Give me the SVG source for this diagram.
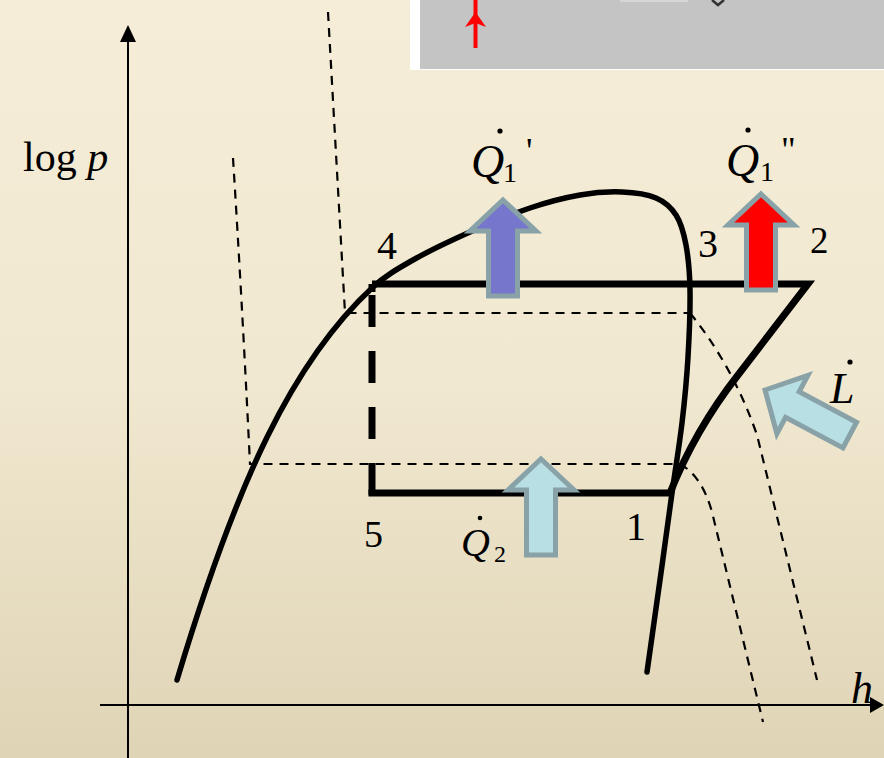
<svg xmlns="http://www.w3.org/2000/svg" width="884" height="758" viewBox="0 0 884 758">
<defs>
<linearGradient id="bg" x1="0" y1="0" x2="0" y2="1">
<stop offset="0" stop-color="#F5EDD7"/>
<stop offset="0.5" stop-color="#F0E8D0"/>
<stop offset="1" stop-color="#E0D4B6"/>
</linearGradient>
<path id="arr" d="M0,0 L33,31 L14.5,31 L14.5,96 L-14.5,96 L-14.5,31 L-33,31 Z"/>
</defs>
<style>
.t{font-family:"Liberation Serif","Times New Roman",serif;fill:#000}
.i{font-style:italic}
.thick{fill:none;stroke:#000;stroke-width:7}
.dome{fill:none;stroke:#000;stroke-width:5.5;stroke-linecap:round}
.thin{fill:none;stroke:#000;stroke-width:2.2;stroke-dasharray:9 7}
.ar{stroke:#88A2A8;stroke-width:5;stroke-linejoin:miter}
.ax{stroke:#000;stroke-width:2;fill:none}
</style>
<rect width="884" height="758" fill="url(#bg)"/>
<g id="inset">
<rect x="410" y="0" width="474" height="70" fill="#FFFFFF"/>
<rect x="420" y="0" width="464" height="69" fill="#C4C4C4"/>
<line x1="620" y1="1" x2="688" y2="1" stroke="#D6D6D6" stroke-width="2"/>
<path d="M712,0 L718,5 L724,0" fill="none" stroke="#333" stroke-width="2.5"/>
<line x1="475.5" y1="0" x2="475.5" y2="48" stroke="#FF0000" stroke-width="4"/>
<path d="M475.5,12 L486,27 L475.5,23 L465,27 Z" fill="#FF0000"/>
</g>
<g id="axes">
<line class="ax" x1="128" y1="40" x2="128" y2="758"/>
<path d="M128,25 L136,42 L120,42 Z" fill="#000"/>
<line class="ax" x1="100" y1="705" x2="872" y2="705"/>
<path d="M884,705 L870,697 L870,713 Z" fill="#000"/>
<text class="t" x="23" y="171" font-size="42">log <tspan class="i">p</tspan></text>
<text class="t i" x="851" y="703" font-size="44">h</text>
</g>
<g id="connectors">
<g id="isolines">
<path class="thin" d="M328,12 L345,313 L690,313"/>
<path class="thin" d="M690,313 Q733,366 757,435 L817,680"/>
<path class="thin" d="M233,158 Q242,300 250,464 L680,464"/>
<path class="thin" d="M680,464 Q702,476 712,512 L763,722"/>
</g>
<path id="dome" class="dome" d="M177,680 C237,480 293,361 373,287 C385,276 396.8,269.2 413,260 C429.2,250.8 450.5,240.7 470,232 C489.5,223.3 511.7,214.2 530,208 C548.3,201.8 564.7,197.7 580,195 C595.3,192.3 609.3,191.5 622,192 C634.7,192.5 647,194.2 656,198 C665,201.8 671,207.2 676,215 C681,222.8 683.7,232.5 686,245 C688.3,257.5 689.7,271.3 690,290 C690.3,308.7 689.3,334.8 688,357 C686.7,379.2 684.7,400.3 682,423 C679.3,445.7 675.7,466.8 672,493 C668.3,519.2 664.2,550.2 660,580 C655.8,609.8 649.2,656.7 647,672"/>
<g id="cycle">
<path class="thick" d="M372,284 L808,284 L738,375 Q695,430 670,493" stroke-linejoin="miter"/>
<line class="thick" x1="372" y1="284" x2="372" y2="292" stroke-linecap="butt"/>
<line class="thick" x1="368.5" y1="493" x2="670" y2="493"/>
<line x1="372" y1="295" x2="372" y2="496" stroke="#000" stroke-width="7" stroke-dasharray="32 24"/>
</g>
</g>
<g id="arrow-Q1p"><use href="#arr" x="503" y="200" class="ar" fill="#7676CC"/></g>
<g id="arrow-Q1pp"><use href="#arr" x="761" y="194" class="ar" fill="#FF0000"/></g>
<g id="arrow-Q2"><use href="#arr" x="541" y="459" class="ar" fill="#B8DFE3"/></g>
<g id="arrow-L"><use href="#arr" transform="translate(765,390) rotate(-62)" class="ar" fill="#B8DFE3"/></g>
<g id="labels">
<text class="t" x="377" y="259" font-size="40">4</text>
<text class="t" x="698" y="257" font-size="40">3</text>
<text class="t" x="810" y="253" font-size="37">2</text>
<text class="t" x="364" y="547" font-size="38">5</text>
<text class="t" x="626" y="540" font-size="40">1</text>
<g id="lbl-Q1p">
<circle cx="500" cy="131" r="2.6" fill="#000"/>
<text class="t i" x="471" y="177" font-size="46">Q</text>
<text class="t" x="503" y="182" font-size="28">1</text>
<text class="t" x="526" y="163" font-size="36">'</text>
</g>
<g id="lbl-Q1pp">
<circle cx="748" cy="130" r="2.6" fill="#000"/>
<text class="t i" x="726" y="176" font-size="46">Q</text>
<text class="t" x="760" y="181" font-size="28">1</text>
<text class="t" x="781" y="162" font-size="36">"</text>
</g>
<g id="lbl-Q2">
<circle cx="480" cy="518" r="2.3" fill="#000"/>
<text class="t i" x="461" y="556" font-size="40">Q</text>
<text class="t" x="494" y="562" font-size="24">2</text>
</g>
<g id="lbl-L">
<circle cx="850" cy="362" r="2.6" fill="#000"/>
<text class="t i" x="830" y="403" font-size="44">L</text>
</g>
</g>
</svg>
